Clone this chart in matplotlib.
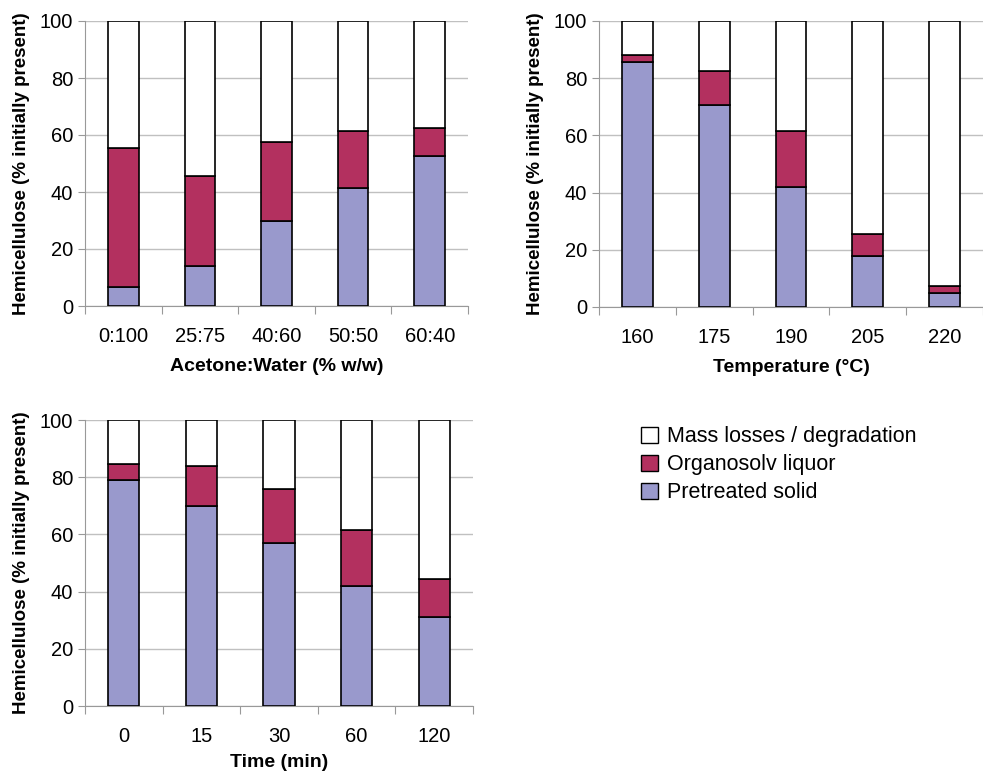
import matplotlib.pyplot as plt
import numpy as np
from matplotlib.patches import Patch

plt.rcParams['font.family'] = ['Liberation Sans', 'DejaVu Sans']

# panel 1 - acetone:water ratio
solvent_labels = ['0:100', '25:75', '40:60', '50:50', '60:40']
solvent_solid = [6.5, 14, 30, 41.5, 52.5]
solvent_liquor = [49, 31.5, 27.5, 20, 10]

# panel 2 - temperature
temp_labels = ['160', '175', '190', '205', '220']
temp_solid = [85.5, 70.5, 42, 18, 5]
temp_liquor = [2.5, 12, 19.5, 7.5, 2.5]

# panel 3 - time
time_labels = ['0', '15', '30', '60', '120']
time_solid = [79, 70, 57, 42, 31]
time_liquor = [5.5, 14, 19, 19.5, 13.5]

c_solid = '#9999cc'
c_liquor = '#b3305f'
c_loss = '#ffffff'

W, H = 983, 777
fig = plt.figure(figsize=(W / 100, H / 100), dpi=100)


def px_axes(x0, x1, ytop, ybot):
    return fig.add_axes([x0 / W, 1 - ybot / H, (x1 - x0) / W, (ybot - ytop) / H])


def panel(ax, labels, solid, liquor, xlabel, xpad=9):
    solid = np.array(solid)
    liquor = np.array(liquor)
    loss = 100 - solid - liquor
    x = np.arange(len(labels))
    kw = dict(width=0.4, edgecolor='black', linewidth=1.2, zorder=3)
    ax.bar(x, solid, color=c_solid, **kw)
    ax.bar(x, liquor, bottom=solid, color=c_liquor, **kw)
    ax.bar(x, loss, bottom=solid + liquor, color=c_loss, **kw)
    ax.set_xlim(-0.5, len(labels) - 0.5)
    ax.set_ylim(0, 100)
    ax.set_yticks([0, 20, 40, 60, 80, 100])
    ax.yaxis.grid(True, color='#c0c0c0', linewidth=1.0, zorder=0)
    ax.set_axisbelow(True)
    for s in ['top', 'right']:
        ax.spines[s].set_visible(False)
    ax.spines['left'].set_color('#999999')
    ax.spines['bottom'].set_color('#999999')
    ax.set_xticks(np.arange(len(labels) + 1) - 0.5)
    ax.set_xticklabels([])
    ax.set_xticks(x, minor=True)
    ax.set_xticklabels(labels, minor=True)
    ax.tick_params(axis='x', which='major', length=6, color='#999999')
    ax.tick_params(axis='x', which='minor', length=0, labelsize=14.5, pad=15)
    ax.tick_params(axis='y', length=5, color='#999999', labelsize=14.5)
    ax.set_ylabel('Hemicellulose (% initially present)', fontsize=13.5,
                  fontweight='bold', labelpad=7)
    ax.set_xlabel(xlabel, fontsize=14, fontweight='bold', labelpad=xpad)


ax1 = px_axes(85, 468, 21, 306)
panel(ax1, solvent_labels, solvent_solid, solvent_liquor, 'Acetone:Water (% w/w)')

ax2 = px_axes(599, 983, 21, 307)
panel(ax2, temp_labels, temp_solid, temp_liquor, 'Temperature (°C)')

ax3 = px_axes(85, 473, 420, 706)
panel(ax3, time_labels, time_solid, time_liquor, 'Time (min)', xpad=6)

handles = [Patch(facecolor=c_loss, edgecolor='black', label='Mass losses / degradation'),
           Patch(facecolor=c_liquor, edgecolor='black', label='Organosolv liquor'),
           Patch(facecolor=c_solid, edgecolor='black', label='Pretreated solid')]
fig.legend(handles=handles, loc='upper left', bbox_to_anchor=(622 / W, 1 - 407 / H),
           frameon=False, fontsize=15.5, handlelength=0.75, handleheight=0.75,
           handletextpad=0.45, labelspacing=0.32)

fig.savefig('out.png', dpi=100)
